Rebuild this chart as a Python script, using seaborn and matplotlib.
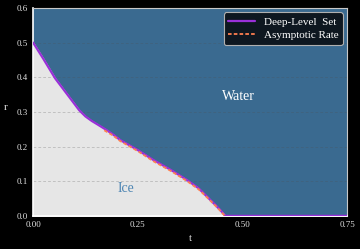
import numpy as np
import pandas as pd
import matplotlib
matplotlib.use('Agg')
import matplotlib.pyplot as plt
import seaborn as sns

# curva del nivel profundo (frontera hielo/agua)
t_level = [0.0, 0.025, 0.0525, 0.085, 0.11, 0.125, 0.14, 0.155, 0.175, 0.192, 0.208, 0.25, 0.287,
           0.33, 0.367, 0.395, 0.415, 0.435, 0.447, 0.455, 0.459, 0.50, 0.60, 0.75]
r_level = [0.5, 0.452, 0.397, 0.345, 0.305, 0.287, 0.274, 0.263, 0.248, 0.234, 0.219, 0.19, 0.1615,
           0.132, 0.104, 0.08, 0.056, 0.032, 0.017, 0.006, 0.0, 0.0, 0.0, 0.0]

# tasa asintotica
t_rate = [0.17, 0.192, 0.208, 0.25, 0.287, 0.33, 0.367, 0.395, 0.415, 0.435, 0.447, 0.455, 0.458]
r_rate = [0.247, 0.231, 0.216, 0.187, 0.158, 0.129, 0.101, 0.077, 0.054, 0.03, 0.015, 0.004, 0.0]

sns.set_style('dark')
plt.rcParams['font.family'] = ['Liberation Serif', 'DejaVu Serif']

df_level = pd.DataFrame({'t': t_level, 'r': r_level})
df_rate = pd.DataFrame({'t': t_rate, 'r': r_rate})

fig, ax = plt.subplots(figsize=(3.6, 2.49), dpi=100)
fig.patch.set_facecolor('black')
ax.set_facecolor('#3a6a90')

ax.fill_between(df_level['t'], 0, df_level['r'], color='#e6e6e6', zorder=1)
for yv in [0.1, 0.2, 0.3, 0.4, 0.5]:
    ax.axhline(yv, color='#505050', lw=0.5, ls=(0, (4, 3)), alpha=0.35, zorder=1.5)

sns.lineplot(data=df_level, x='t', y='r', color='#9a30d8', lw=1.6, sort=False,
             ax=ax, label='Deep-Level  Set', zorder=3)
sns.lineplot(data=df_rate, x='t', y='r', color='#ff7f50', lw=1.3, sort=False,
             ls=(0, (2, 1.2)), ax=ax, label='Asymptotic Rate', zorder=4)

ax.text(0.49, 0.345, 'Water', color='white', fontsize=10, ha='center', va='center')
ax.text(0.222, 0.08, 'Ice', color='#4f86b3', fontsize=10, ha='center', va='center')

ax.set_xlim(0, 0.75)
ax.set_ylim(0, 0.6)
ax.set_xticks([0, 0.25, 0.5, 0.75])
ax.set_xticklabels(['0.00', '0.25', '0.50', '0.75'])
ax.set_yticks([0, 0.1, 0.2, 0.3, 0.4, 0.5, 0.6])
ax.set_yticklabels(['0.0', '0.1', '0.2', '0.3', '0.4', '0.5', '0.6'])
ax.tick_params(colors='#e0e0e0', labelsize=6.5, length=2.5, width=0.8, pad=1.5)
ax.set_xlabel('t', color='#e0e0e0', fontsize=8, labelpad=3)
ax.set_ylabel('r', color='#e0e0e0', fontsize=8, rotation=0, labelpad=8)
ax.grid(False)
for s in ['top', 'right']:
    ax.spines[s].set_color('#c8c8c8')
    ax.spines[s].set_linewidth(0.8)
for s in ['left', 'bottom']:
    ax.spines[s].set_color('white')
    ax.spines[s].set_linewidth(1.2)
for s in ax.spines:
    ax.spines[s].set_visible(True)

leg = ax.legend(loc='upper right', fontsize=8, facecolor='#0e1720', edgecolor='#b0b0b0',
                framealpha=1, labelcolor='white', handlelength=2.4, borderpad=0.4,
                labelspacing=0.35, borderaxespad=0.4, handletextpad=0.8)
leg.get_frame().set_linewidth(0.8)

plt.subplots_adjust(left=0.092, right=0.964, top=0.968, bottom=0.133)
plt.savefig('out.png', dpi=100, facecolor='black')
